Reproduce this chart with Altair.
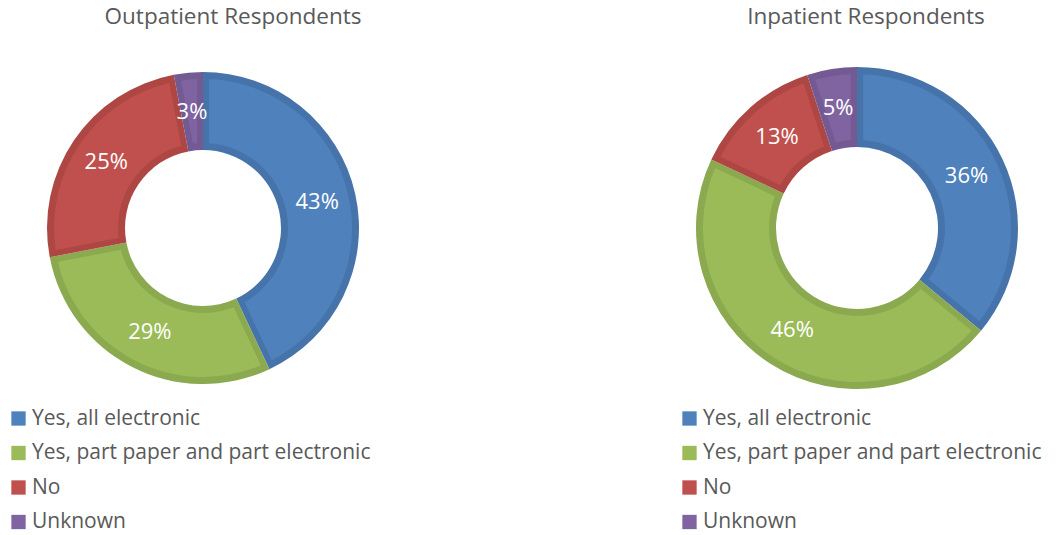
import altair as alt
import pandas as pd

# Survey categories and shares (percent of respondents)
categories = ["Yes, all electronic", "Yes, part paper and part electronic", "No", "Unknown"]
outpatient_pct = [43, 29, 25, 3]
inpatient_pct = [36, 46, 13, 5]
panel_titles = ["Outpatient Respondents", "Inpatient Respondents"]

fill_colors = ["#4F81BD", "#9BBB59", "#C0504D", "#8064A2"]
edge_colors = ["#4674AA", "#8BA94E", "#AE4744", "#735A93"]

FONT = "Open Sans"
TEXT_GRAY = "#595959"


def frame(values):
    return pd.DataFrame({
        "category": categories,
        "pct": values,
        "idx": list(range(len(values))),
        "label": [f"{v}%" for v in values],
    })


def donut(values, title, cx, cy, r_out, r_in, title_x, legend_x):
    df = frame(values)
    theta = alt.Theta("pct:Q", stack=True)
    order = alt.Order("idx:Q")

    # dark rim of every slice
    rim = alt.Chart(df).mark_arc(outerRadius=r_out, innerRadius=r_in).encode(
        theta=theta,
        order=order,
        fill=alt.Fill("category:N",
                      scale=alt.Scale(domain=categories, range=edge_colors),
                      legend=None),
        x=alt.value(cx),
        y=alt.value(cy),
    )

    # lighter face inset inside the rim
    face = alt.Chart(df).mark_arc(
        outerRadius=r_out - 7, innerRadius=r_in + 7, padAngle=0.07
    ).encode(
        theta=theta,
        order=order,
        color=alt.Color(
            "category:N",
            scale=alt.Scale(domain=categories, range=fill_colors),
            legend=alt.Legend(
                title=None,
                orient="none",
                legendX=legend_x,
                legendY=408,
                symbolType="square",
                symbolSize=205,
                symbolStrokeWidth=0,
                labelFont=FONT,
                labelFontSize=21,
                labelColor=TEXT_GRAY,
                labelLimit=600,
                labelOffset=3,
                rowPadding=12.5,
                padding=0,
            ),
        ),
        x=alt.value(cx),
        y=alt.value(cy),
    )

    labels = alt.Chart(df).mark_text(
        radius=(r_out + r_in) / 2, font=FONT, fontSize=22, color="white"
    ).encode(
        theta=theta,
        order=order,
        detail="category:N",
        text="label:N",
        x=alt.value(cx),
        y=alt.value(cy),
    )

    heading = alt.Chart(pd.DataFrame({"t": [title]})).mark_text(
        font=FONT, fontSize=22.5, color=TEXT_GRAY, baseline="middle"
    ).encode(text="t:N", x=alt.value(title_x), y=alt.value(17))

    return [rim, face, labels, heading]


layers = (
    donut(outpatient_pct, panel_titles[0], 203, 228, 156, 78, 233, 8)
    + donut(inpatient_pct, panel_titles[1], 857, 228, 161, 81, 866, 679)
)

chart = (
    alt.layer(*layers)
    .resolve_scale(color="independent")
    .properties(width=1057, height=535, padding=0, autosize=alt.AutoSizeParams(type="none"),
                background="white")
    .configure_view(stroke=None)
)

chart.save("out.html", embed_options={"renderer": "svg", "actions": False})
